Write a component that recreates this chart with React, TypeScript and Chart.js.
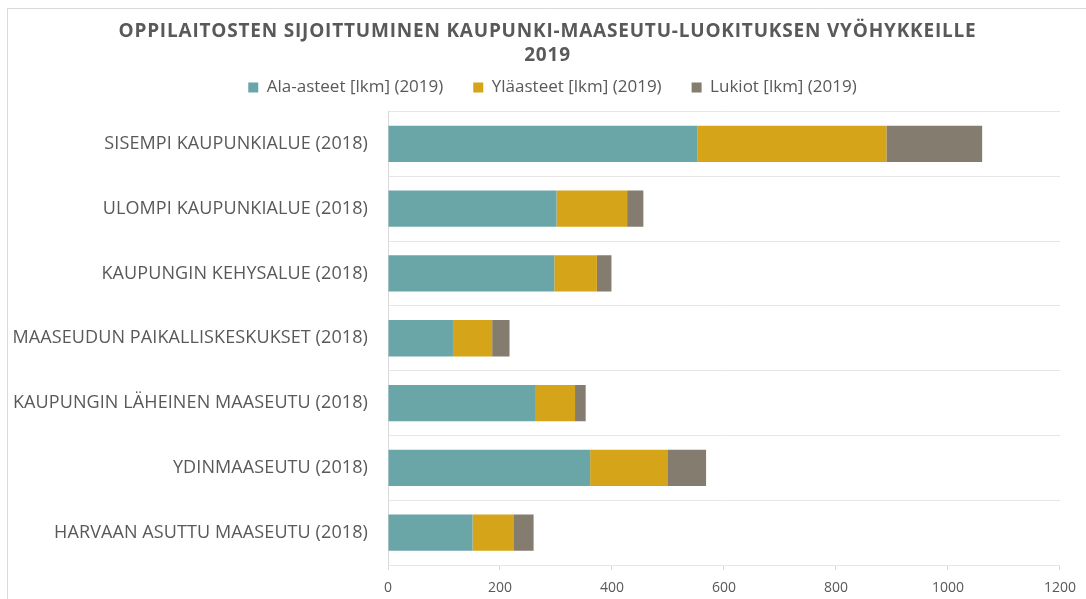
import React, { useEffect, useRef } from "react";
import { Chart, registerables } from "chart.js";

Chart.register(...registerables);

const categories = [
  "SISEMPI KAUPUNKIALUE (2018)",
  "ULOMPI KAUPUNKIALUE (2018)",
  "KAUPUNGIN KEHYSALUE (2018)",
  "MAASEUDUN PAIKALLISKESKUKSET (2018)",
  "KAUPUNGIN LÄHEINEN MAASEUTU (2018)",
  "YDINMAASEUTU (2018)",
  "HARVAAN ASUTTU MAASEUTU (2018)",
];

const alaAsteet = [553, 301, 297, 116, 264, 361, 151];
const ylaasteet = [337, 126, 76, 70, 70, 139, 74];
const lukiot = [171, 29, 26, 31, 19, 68, 35];

const seriesNames = ["Ala-asteet [lkm] (2019)", "Yläasteet [lkm] (2019)", "Lukiot [lkm] (2019)"];
const titleLines = ["OPPILAITOSTEN SIJOITTUMINEN KAUPUNKI-MAASEUTU-LUOKITUKSEN VYÖHYKKEILLE", "2019"];

const FONT = "'Open Sans', 'Noto Sans', sans-serif";
const TEXT = "#595959";

const framePlugin = {
  id: "frame",
  beforeDraw(chart: any) {
    const ctx = chart.ctx;
    ctx.save();
    ctx.strokeStyle = "#d9d9d9";
    ctx.lineWidth = 1;
    ctx.beginPath();
    ctx.moveTo(7.5, chart.height);
    ctx.lineTo(7.5, 8.5);
    ctx.lineTo(chart.width, 8.5);
    ctx.stroke();
    ctx.restore();
  },
};

function wrapDraw(chart: any, obj: any, method: string, spacing: string, dx: number) {
  if (!obj || typeof obj[method] !== "function") return;
  const orig = obj[method].bind(obj);
  obj[method] = (...args: any[]) => {
    const ctx = chart.ctx;
    ctx.save();
    ctx.letterSpacing = spacing;
    if (dx) ctx.translate(dx, 0);
    orig(...args);
    ctx.restore();
  };
}

export default function App() {
  const ref = useRef<HTMLCanvasElement | null>(null);

  useEffect(() => {
    if (!ref.current) return;
    const chart: any = new Chart(ref.current, {
      type: "bar",
      data: {
        labels: categories,
        datasets: [
          { label: seriesNames[0], data: alaAsteet, backgroundColor: "#6aa6a7" },
          { label: seriesNames[1], data: ylaasteet, backgroundColor: "#d6a418" },
          { label: seriesNames[2], data: lukiot, backgroundColor: "#847c6f" },
        ],
      },
      options: {
        indexAxis: "y",
        animation: false,
        responsive: false,
        maintainAspectRatio: false,
        layout: { padding: { left: 0, right: 25, top: 14, bottom: 0 } },
        datasets: { bar: { barPercentage: 0.56, categoryPercentage: 1, borderWidth: 0 } },
        plugins: {
          title: {
            display: true,
            text: titleLines,
            color: TEXT,
            font: { family: FONT, size: 19, weight: "bold", lineHeight: 24 / 19 },
            padding: { top: 6, bottom: -19 },
          },
          legend: {
            display: true,
            position: "top",
            labels: {
              color: TEXT,
              font: { family: FONT, size: 17 },
              boxWidth: 10,
              boxHeight: 10,
              padding: 30,
            },
          },
          tooltip: { enabled: false },
        },
        scales: {
          x: {
            stacked: true,
            min: 0,
            max: 1200,
            ticks: {
              stepSize: 200,
              color: TEXT,
              font: { family: FONT, size: 14 },
              padding: 10,
              callback: (v: any) => String(v),
            },
            grid: { drawOnChartArea: false, drawTicks: true, tickLength: 5, color: "#d9d9d9" },
            border: { display: false },
            afterFit(scale: any) {
              scale.height = 34;
            },
          },
          y: {
            stacked: true,
            ticks: { color: TEXT, font: { family: FONT, size: 18 }, padding: 20 },
            grid: { offset: true, drawTicks: false, color: "#e6e6e6" },
            border: { display: true, color: "#d9d9d9" },
            afterFit(scale: any) {
              scale.width = 388;
            },
          },
        },
      },
      plugins: [framePlugin],
    } as any);

    wrapDraw(chart, chart.titleBlock, "draw", "0.8px", 17);
    wrapDraw(chart, chart.legend, "draw", "0px", 22);
    wrapDraw(chart, chart.scales && chart.scales.y, "drawLabels", "0.1px", 0);
    const lg = chart.legend;
    if (lg) {
      const origFit = lg.fit.bind(lg);
      lg.fit = () => {
        origFit();
        if (lg.height) lg.height += 5.5;
      };
    }
    chart.update();

    return () => chart.destroy();
  }, []);

  return (
    <div style={{ position: "absolute", left: 0, top: 0, width: 1086, height: 599, background: "#fff" }}>
      <canvas ref={ref} width={1086} height={599} style={{ width: 1086, height: 599 }} />
    </div>
  );
}
